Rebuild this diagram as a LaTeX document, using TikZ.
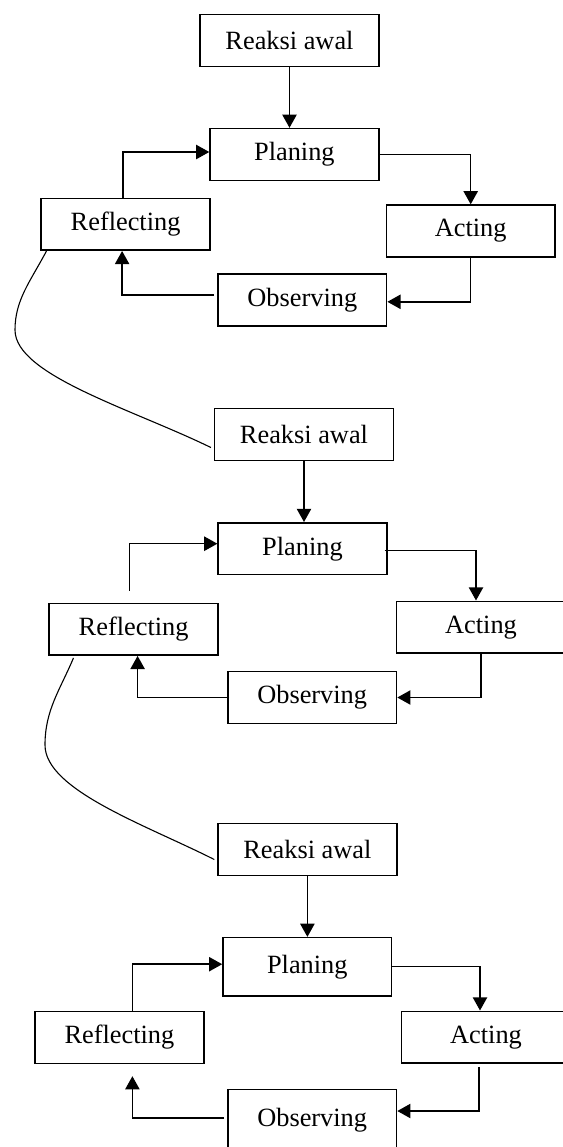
\documentclass[tikz,border=0pt]{standalone}
\usepackage{fontspec}
\setmainfont{Liberation Serif}
\usetikzlibrary{arrows.meta,calc}

\begin{document}
\begin{tikzpicture}[
        x=0.016cm, y=-0.016cm,
        box/.style = {draw, line width=0.7pt, minimum width=2.7cm, minimum height=0.83cm, inner sep=0pt, font=\fontsize{12}{14}\selectfont},
        wide/.style = {minimum width=2.86cm},
        arr/.style = {->, line width=0.7pt},
        sweep/.style = {line width=0.5pt},
        >={Triangle[length=6pt, width=6.5pt]}
        ]

        \useasboundingbox (0,0) rectangle (563,1147);
        \clip (0,0) rectangle (563,1147);

        \node (R1) at (289.5,40.5)  [box, wide] {Reaksi awal};
        \node (P1) at (294.4,154.5) [box] {Planing};
        \node (F1) at (125.6,224.3) [box] {Reflecting};
        \node (A1) at (470.7,231)   [box] {Acting};
        \node (O1) at (302.3,299.8) [box] {Observing};

        \draw[arr] (R1.south) -- (R1.south |- P1.north);
        \draw[arr] ($(F1.north)+(-2.5,0)$) |- ($(P1.west)+(0,-2.5)$);
        \draw[arr] (P1.east) -| (A1.north);
        \draw[arr] (A1.south) |- ($(O1.east)+(0,2)$);
        \draw[arr] ($(O1.west)+(-3,-5)$) -| ($(F1.south)+(-3.5,0)$);

        \node (R2) at (304,434.5)   [box, wide] {Reaksi awal};
        \node (P2) at (302.5,548.7) [box] {Planing};
        \node (F2) at (133.6,629.2) [box] {Reflecting};
        \node (A2) at (481,627.2)   [box] {Acting};
        \node (O2) at (312.2,697.5) [box] {Observing};

        \draw[sweep] ($(F1.south west)+(6,0)$) .. controls (30,282) and (15,300) .. (15,330)
            .. controls (15,375) and (132,409) .. ($(R2.west)+(-3,13)$);

        \draw[arr] (R2.south) -- (R2.south |- P2.north);
        \draw[arr] ($(F2.north)+(-4,-12)$) |- ($(P2.west)+(0,-5)$);
        \draw[arr] ($(P2.east)+(-3,2)$) -| ($(A2.north)+(-5,0)$);
        \draw[arr] (A2.south) |- (O2.east);
        \draw[arr] ($(O2.west)+(2,0)$) -| ($(F2.south)+(4,0)$);

        \node (R3) at (307.4,849.5)  [box, wide] {Reaksi awal};
        \node (P3) at (307.3,966.7)  [box, minimum height=0.93cm] {Planing};
        \node (F3) at (119.4,1037.5) [box] {Reflecting};
        \node (A3) at (486,1037.2)   [box] {Acting};
        \node (O3) at (312.2,1120.5) [box, minimum height=1cm] {Observing};

        \draw[sweep] ($(F2.south west)+(25,2)$) .. controls (60,690) and (45,710) .. (45,745)
            .. controls (45,790) and (146,825) .. ($(R3.west)+(-3,10)$);

        \draw[arr] (R3.south) -- (R3.south |- P3.north);
        \draw[arr] ($(F3.north)+(13,0)$) |- ($(P3.west)+(0,-2.5)$);
        \draw[arr] (P3.east) -| ($(A3.north)+(-6,0)$);
        \draw[arr] ($(A3.south)+(-7,3)$) |- ($(O3.east)+(0,-9.5)$);
        \draw[arr] ($(O3.west)+(-3,-2.5)$) -| ($(F3.south)+(13,12)$);
    \end{tikzpicture}
\end{document}
